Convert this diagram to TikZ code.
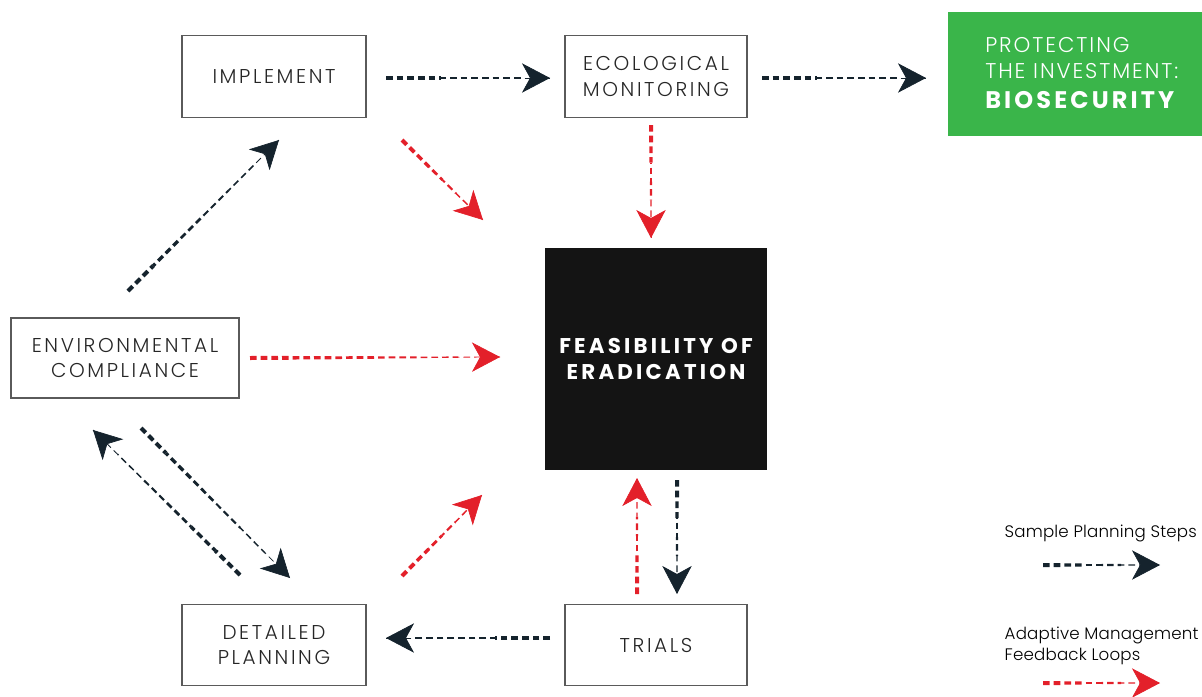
\documentclass[tikz,border=0pt]{standalone}
\usepackage{fontspec}
\setmainfont{Poppins}[UprightFont=* Light, BoldFont=* Bold]
\usepackage{xcolor}
\usetikzlibrary{arrows.meta,calc}

\definecolor{navy}{HTML}{15232D}
\definecolor{alarm}{HTML}{E3202A}
\definecolor{leaf}{HTML}{3AB54A}
\definecolor{frame}{HTML}{5A5A5A}

% dashed connector that thins out towards its head
\newcommand{\flowarrow}[3]{%
  \path let \p1=($(#3)-(#2)$) in
    \pgfextra{\pgfmathsetmacro{\flowlen}{veclen(\x1,\y1)}\xdef\flowlen{\flowlen}};
  \foreach \k in {0,...,5}{
    \pgfmathsetmacro{\w}{3.0-0.48*\k}
    \pgfmathsetmacro{\ph}{\k*\flowlen/6}
    \draw[#1, line width=\w pt, dash pattern=on 5pt off 3pt, dash phase=\ph pt]
      ($(#2)!\k/6!(#3)$) -- ($(#2)!\k/6+1/6!(#3)$);
  }
  \draw[#1, line width=0.5pt, -{Stealth[length=21pt,width=22pt,inset=6pt]}]
    ($(#3)!1pt!(#2)$) -- (#3);
}

\tikzset{
  stepbox/.style={draw=frame, line width=0.8pt, align=center, text=black!85,
    font=\fontsize{15}{19}\selectfont\addfontfeature{LetterSpace=13},
    minimum width=138pt, minimum height=61pt},
}

\begin{document}
\begin{tikzpicture}[x=0.75pt,y=-0.75pt]
\useasboundingbox (0,0) rectangle (1202,696);

		\node[stepbox] (I) at (274,76.5) {IMPLEMENT};
		\node[stepbox, minimum width=136.5pt] (M) at (656,76.5) {ECOLOGICAL\\MONITORING};
		\node[fill=leaf, anchor=north west, minimum width=190.5pt, minimum height=93pt] (B) at (948,12) {};
		\node[text=white, align=left, anchor=north west, inner sep=0pt,
		      font=\fontsize{16}{19.5}\selectfont\addfontfeature{LetterSpace=9}]
		      (Bt) at (985,37) {PROTECTING\\THE INVESTMENT:\\[3pt]{\fontsize{18}{22}\selectfont\bfseries\addfontfeature{LetterSpace=13}BIOSECURITY}};
		\node[fill=black!92, text=white, align=center, minimum size=166.5pt,
		      font=\fontsize{16}{20}\selectfont\bfseries\addfontfeature{LetterSpace=15}] (F) at (656,359) {FEASIBILITY OF\\ERADICATION};
		\node[stepbox, minimum width=171pt, minimum height=60pt] (E) at (125,358) {ENVIRONMENTAL\\COMPLIANCE};
		\node[stepbox] (D) at (274,645) {DETAILED\\PLANNING};
		\node[stepbox, minimum width=136.5pt] (T) at (656,645) {TRIALS};
		% legend
		\node[anchor=west, font=\fontsize{12.5}{16}\selectfont\addfontfeature{LetterSpace=1}] (L1) at (1000,533) {Sample Planning Steps};
		\node[anchor=west, align=left, font=\fontsize{12.5}{16}\selectfont\addfontfeature{LetterSpace=1}] (L2) at (1000,646) {Adaptive Management\\Feedback Loops};
		%
		% arrow ends
		\coordinate (a1) at (386,78);  \coordinate (a2) at (550,78);
		\coordinate (b1) at (762,78);  \coordinate (b2) at (926,78);
		\coordinate (c1) at (402,140); \coordinate (c2) at (483,220);
		\coordinate (d1) at (651,125); \coordinate (d2) at (651,238);
		\coordinate (e1) at (128,291); \coordinate (e2) at (279,140);
		\coordinate (f1) at (250,358); \coordinate (f2) at (500,357);
		\coordinate (g1) at (141,428); \coordinate (g2) at (290,578);
		\coordinate (h1) at (240,575); \coordinate (h2) at (93,430);
		\coordinate (i1) at (402,576); \coordinate (i2) at (482,495);
		\coordinate (j1) at (637,594); \coordinate (j2) at (637,478);
		\coordinate (k1) at (677,480); \coordinate (k2) at (677,594);
		\coordinate (l1) at (550,638); \coordinate (l2) at (386,638);
		\coordinate (m1) at (1043,565); \coordinate (m2) at (1160,565);
		\coordinate (n1) at (1043,683); \coordinate (n2) at (1160,683);
		%
		% planning steps
		\flowarrow{navy}{a1}{a2}
		\flowarrow{navy}{b1}{b2}
		\flowarrow{navy}{e1}{e2}
		\flowarrow{navy}{g1}{g2}
		\flowarrow{navy}{h1}{h2}
		\flowarrow{navy}{k1}{k2}
		\flowarrow{navy}{l1}{l2}
		\flowarrow{navy}{m1}{m2}
		% feedback loops
		\flowarrow{alarm}{c1}{c2}
		\flowarrow{alarm}{d1}{d2}
		\flowarrow{alarm}{f1}{f2}
		\flowarrow{alarm}{i1}{i2}
		\flowarrow{alarm}{j1}{j2}
		\flowarrow{alarm}{n1}{n2}
\end{tikzpicture}
\end{document}
